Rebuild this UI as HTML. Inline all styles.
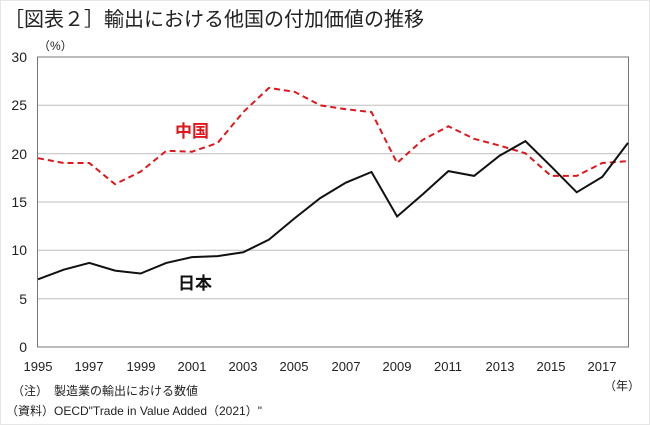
<!DOCTYPE html>
<html><head><meta charset="utf-8"><style>
html,body{margin:0;padding:0;background:#fff}
svg{display:block}
text{font-family:"Liberation Sans","Noto Sans CJK JP",sans-serif}
</style></head><body>
<svg width="650" height="425" viewBox="0 0 650 425" xmlns="http://www.w3.org/2000/svg">
<rect x="0.5" y="0.5" width="649" height="424" fill="#fff" stroke="#e6e6e6"/>
<text x="4" y="26" font-size="20" fill="#222">［図表２］輸出における他国の付加価値の推移</text>
<text x="38" y="50" font-size="12" fill="#222">（%）</text>
<g stroke="#bdbdbd" stroke-width="1">
<line x1="37.5" y1="105.3" x2="628.5" y2="105.3"/>
<line x1="37.5" y1="153.7" x2="628.5" y2="153.7"/>
<line x1="37.5" y1="202" x2="628.5" y2="202"/>
<line x1="37.5" y1="250.3" x2="628.5" y2="250.3"/>
<line x1="37.5" y1="298.7" x2="628.5" y2="298.7"/>
</g>
<rect x="37.5" y="57" width="591" height="290" fill="none" stroke="#777" stroke-width="1"/>
<g font-size="14" fill="#222" text-anchor="end">
<text x="27" y="62">30</text><text x="27" y="110">25</text><text x="27" y="159">20</text>
<text x="27" y="207">15</text><text x="27" y="255">10</text><text x="27" y="304">5</text><text x="27" y="352">0</text>
</g>
<g font-size="13" fill="#222" text-anchor="middle">
<text x="38" y="371">1995</text><text x="89" y="371">1997</text><text x="141" y="371">1999</text>
<text x="192" y="371">2001</text><text x="243" y="371">2003</text><text x="294" y="371">2005</text>
<text x="346" y="371">2007</text><text x="397" y="371">2009</text><text x="448" y="371">2011</text>
<text x="500" y="371">2013</text><text x="551" y="371">2015</text><text x="602" y="371">2017</text>
</g>
<text x="604" y="390" font-size="12" fill="#222">（年）</text>
<text x="12" y="395" font-size="12" fill="#222">（注）　製造業の輸出における数値</text>
<text x="6" y="415" font-size="12" fill="#222">（資料）OECD"Trade in Value Added（2021）"</text>
<polyline fill="none" stroke="#e0161b" stroke-width="2" stroke-dasharray="6,4" points="38,158.2 63.7,163 89.3,163 115,184.2 140.6,171.7 166.3,150.8 191.9,151.7 217.6,143 243.2,112.1 268.9,87.9 294.5,91.8 320.2,105.3 345.8,109.2 371.5,112.1 397.1,163 422.8,139.8 448.4,126.3 474.1,138.8 499.7,145.6 525.4,153.3 551,175.9 576.7,175.9 602.3,163 628,161.1"/>
<polyline fill="none" stroke="#111" stroke-width="2" points="38,279.3 63.7,269.7 89.3,262.9 115,270.6 140.6,273.5 166.3,262.9 191.9,257.1 217.6,256.1 243.2,252.3 268.9,239.7 294.5,218.4 320.2,198.1 345.8,182.7 371.5,172 397.1,216.5 422.8,194.3 448.4,171.1 474.1,175.9 499.7,155.6 525.4,141.1 551,166.3 576.7,192.3 602.3,176.9 628,142.9"/>
<text x="175" y="137" font-size="17" font-weight="bold" fill="#e0161b">中国</text>
<text x="178" y="289" font-size="17" font-weight="bold" fill="#111">日本</text>
</svg>
</body></html>
